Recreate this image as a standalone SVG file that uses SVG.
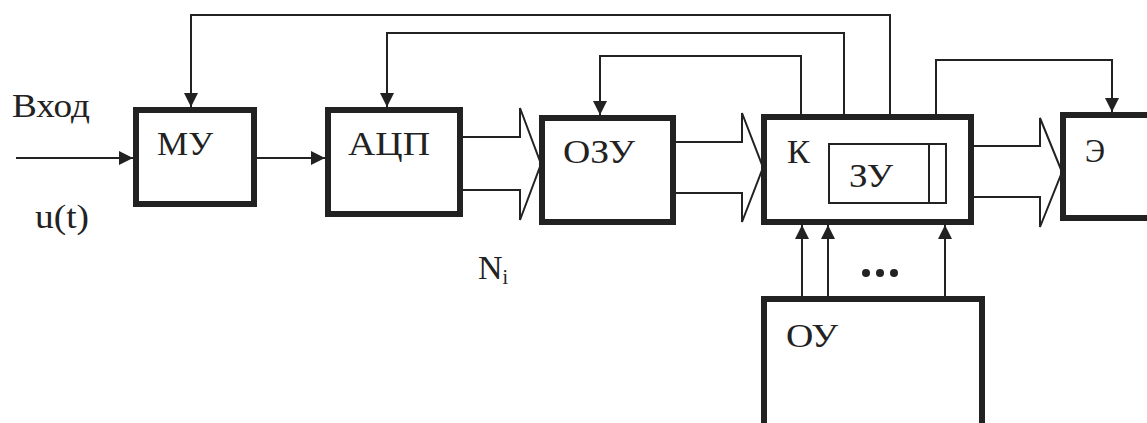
<svg xmlns="http://www.w3.org/2000/svg" width="1147" height="423" viewBox="0 0 1147 423">
<defs>
<style>
.box{fill:none;stroke:#222;stroke-width:6}
.thin{fill:none;stroke:#222;stroke-width:2}
.wire{fill:none;stroke:#222;stroke-width:2}
text{font-family:'Liberation Serif','DejaVu Serif',serif;font-size:34px;fill:#222}
.sub{font-size:20px}
</style>
<marker id="ah" viewBox="0 0 14 14" markerUnits="userSpaceOnUse" markerWidth="14" markerHeight="14" refX="14" refY="7" orient="auto">
<path d="M0,0 L14,7 L0,14 z" fill="#222"/>
</marker>
</defs>
<rect width="1147" height="423" fill="#fff"/>

<g id="labels">
<text x="12" y="117" textLength="78" lengthAdjust="spacingAndGlyphs">Вход</text>
<text x="35" y="228" textLength="54" lengthAdjust="spacingAndGlyphs">u(t)</text>
<text x="478" y="279">N<tspan class="sub" dy="5">i</tspan></text>
</g>

<g id="connectors">
<path class="wire" d="M16,158 H133" marker-end="url(#ah)"/>
<path class="wire" d="M257,158 H325" marker-end="url(#ah)"/>
<path class="wire" d="M890,114 V15 H191 V107" marker-end="url(#ah)"/>
<path class="wire" d="M844,114 V33 H387 V107" marker-end="url(#ah)"/>
<path class="wire" d="M801,114 V56 H600 V115" marker-end="url(#ah)"/>
<path class="wire" d="M936,114 V60 H1112 V112" marker-end="url(#ah)"/>
<path class="wire" d="M802,296 V225" marker-end="url(#ah)"/>
<path class="wire" d="M828,296 V225" marker-end="url(#ah)"/>
<path class="wire" d="M945,296 V225" marker-end="url(#ah)"/>
<path class="thin" d="M460,137 H520 V108 L541,164 L520,220 V190 H460"/>
<path class="thin" d="M673,142 H742 V113 L763,167.5 L742,222 V193 H673"/>
<path class="thin" d="M971,146 H1040 V118 L1062,172 L1040,227 V197 H971"/>
<g id="dots" fill="#222">
<circle cx="866" cy="273" r="4"/>
<circle cx="880" cy="273" r="4"/>
<circle cx="894" cy="273" r="4"/>
</g>
</g>

<g id="MU">
<rect class="box" x="136" y="110" width="118" height="94"/>
<text x="157" y="155" textLength="56" lengthAdjust="spacingAndGlyphs">МУ</text>
</g>
<g id="ADC">
<rect class="box" x="328" y="110" width="132" height="104"/>
<text x="348" y="155" textLength="82" lengthAdjust="spacingAndGlyphs">АЦП</text>
</g>
<g id="OZU">
<rect class="box" x="542" y="118" width="131" height="104"/>
<text x="563" y="163" textLength="72" lengthAdjust="spacingAndGlyphs">ОЗУ</text>
</g>
<g id="K">
<rect class="box" x="764" y="117" width="207" height="105"/>
<text x="787" y="163" textLength="23" lengthAdjust="spacingAndGlyphs">К</text>
<g id="ZU">
<rect class="thin" x="829" y="144" width="117" height="59"/>
<line class="thin" x1="929" y1="144" x2="929" y2="203"/>
<text x="849" y="187" textLength="44" lengthAdjust="spacingAndGlyphs">ЗУ</text>
</g>
</g>
<g id="E">
<rect class="box" x="1063" y="115" width="150" height="103"/>
<text x="1085" y="162" textLength="20" lengthAdjust="spacingAndGlyphs">Э</text>
</g>
<g id="OU">
<rect class="box" x="764" y="299" width="218" height="150"/>
<text x="786" y="347" textLength="52" lengthAdjust="spacingAndGlyphs">ОУ</text>
</g>
</svg>
